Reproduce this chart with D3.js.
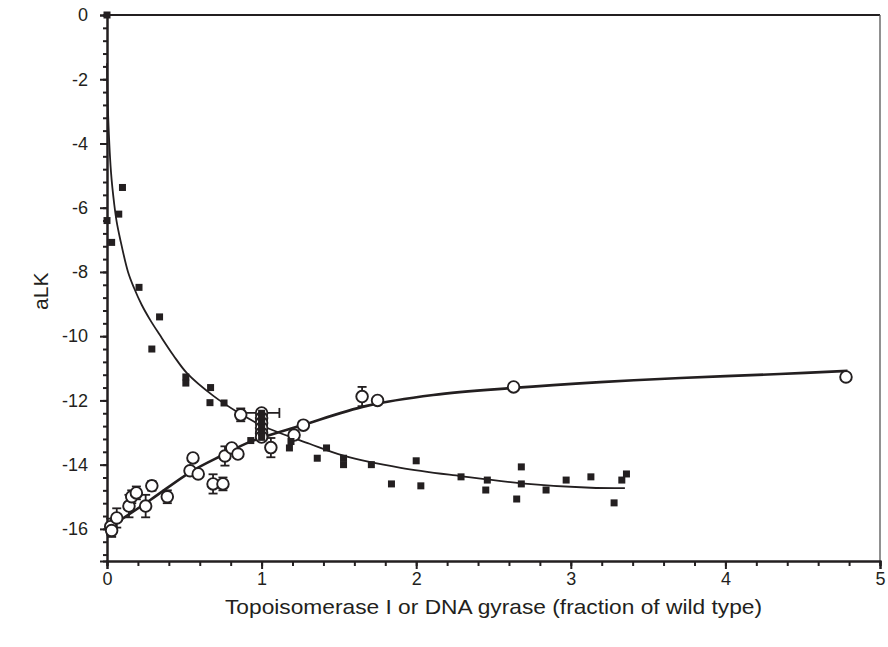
<!DOCTYPE html>
<html><head><meta charset="utf-8">
<script src="https://cdn.jsdelivr.net/npm/d3@7"></script>
<style>body{margin:0;background:#fff}svg{display:block}text{font-family:"Liberation Sans",Arial,sans-serif;fill:#231f20}</style>
</head><body><div id="chart"></div>
<script>
// Gyrase (filled squares)
const squareX = [0,0,0.03,0.076,0.10,0.207,0.34,0.29,0.51,0.51,0.67,0.666,0.757,0.93,1.0,1.0,1.0,1.0,1.0,1.0,1.18,1.19,1.36,1.42,1.53,1.53,1.71,1.84,2.0,2.03,2.29,2.46,2.45,2.68,2.68,2.65,2.84,2.97,3.13,3.28,3.33,3.36];
const squareY = [0,-6.4,-7.08,-6.2,-5.37,-8.48,-9.4,-10.4,-11.27,-11.46,-11.6,-12.07,-12.08,-13.25,-12.4,-12.55,-12.7,-12.85,-13.0,-13.15,-13.48,-13.28,-13.8,-13.48,-13.8,-14.0,-14.0,-14.6,-13.88,-14.66,-14.38,-14.48,-14.79,-14.07,-14.6,-15.07,-14.79,-14.48,-14.38,-15.19,-14.48,-14.29];
// Topoisomerase I (open circles)
const circleX = [0.024,0.03,0.063,0.142,0.16,0.19,0.25,0.29,0.39,0.556,0.537,0.59,0.686,0.75,0.763,0.807,0.847,0.865,1.0,1.0,1.0,1.0,1.0,1.0,1.06,1.21,1.27,1.65,1.75,2.63,4.78];
const circleY = [-15.93,-16.05,-15.66,-15.29,-15.0,-14.88,-15.29,-14.66,-15.0,-13.79,-14.19,-14.29,-14.6,-14.6,-13.73,-13.48,-13.67,-12.45,-12.39,-12.55,-12.7,-12.86,-13.02,-13.14,-13.47,-13.08,-12.77,-11.88,-12.0,-11.58,-11.27];
const circleYErr = [0.25,0.2,0.3,0.35,0.2,0.2,0.35,0.15,0.2,0.1,0.1,0.1,0.3,0.2,0.3,0.1,0.1,0.2,0.1,0.1,0.1,0.1,0.1,0.1,0.3,0.1,0.1,0.3,0.1,0.1,0.1];
const circleXErr = [0,0,0,0,0,0,0,0,0,0,0,0,0,0,0,0,0,0,0.115,0,0,0,0,0,0,0,0,0,0,0,0];
// Fitted curves
const gyraseFitX = [0,0.005,0.026,0.047,0.063,0.084,0.136,0.175,0.225,0.28,0.34,0.43,0.517,0.686,0.84,1.0,1.31,1.53,1.9,2.29,2.68,3.13,3.35];
const gyraseFitY = [-1.5,-2.8,-4.9,-5.9,-6.45,-6.95,-8.0,-8.5,-9.03,-9.5,-9.95,-10.6,-11.15,-11.85,-12.35,-12.78,-13.35,-13.72,-14.1,-14.36,-14.58,-14.72,-14.73];
const topoFitX = [0.02,0.28,0.54,0.75,0.925,1.27,1.68,2.11,2.63,3.19,3.71,4.35,4.79];
const topoFitY = [-15.94,-15.1,-14.23,-13.7,-13.29,-12.76,-12.17,-11.83,-11.61,-11.43,-11.3,-11.18,-11.08];
const xTicks = [0,1,2,3,4,5];
const yTicks = [0,-2,-4,-6,-8,-10,-12,-14,-16];

const W = 888, H = 647;
const m = {l:107, r:8, t:15, b:86};
const svg = d3.select("#chart").append("svg").attr("width",W).attr("height",H);
const x = d3.scaleLinear().domain([0,5]).range([m.l, W-m.r]);
const y = d3.scaleLinear().domain([-17,0]).range([H-m.b, m.t]);
const ink = "#231f20";
const fmt = d => String(d);

// frame
svg.append("line").attr("x1",x(0)).attr("x2",x(5)).attr("y1",y(0)).attr("y2",y(0)).attr("stroke",ink).attr("stroke-width",2);
svg.append("line").attr("x1",x(5)).attr("x2",x(5)).attr("y1",y(0)).attr("y2",y(-17)).attr("stroke","#555").attr("stroke-width",1.3);

// axes
const xMinor = d3.range(0,5.001,0.2);
const gx = svg.append("g").attr("transform",`translate(0,${y(-17)})`);
gx.call(d3.axisBottom(x).tickValues(xMinor).tickSize(5).tickFormat(""));
gx.append("g").call(d3.axisBottom(x).tickValues(xTicks).tickSize(8).tickFormat(fmt));
gx.selectAll("path").attr("stroke",ink).attr("stroke-width",2);
gx.selectAll("line").attr("stroke",ink).attr("stroke-width",2);
gx.selectAll("text").attr("font-size",18).style("fill",ink);

const yMinor = d3.range(0,-17.001,-0.4);
const gy = svg.append("g").attr("transform",`translate(${x(0)},0)`);
gy.call(d3.axisLeft(y).tickValues(yMinor).tickSize(4).tickFormat(""));
gy.append("g").call(d3.axisLeft(y).tickValues(yTicks).tickSize(7).tickFormat(fmt));
gy.selectAll("path").attr("stroke",ink).attr("stroke-width",2);
gy.selectAll("line").attr("stroke",ink).attr("stroke-width",2);
gy.selectAll("text").attr("font-size",18).attr("x",-19).style("fill",ink);

svg.append("text").attr("x",(x(0)+x(5))/2).attr("y",614).attr("text-anchor","middle").attr("font-size",21).attr("textLength",537).attr("lengthAdjust","spacingAndGlyphs").text("Topoisomerase I or DNA gyrase (fraction of wild type)");
svg.append("text").attr("transform",`translate(48,${y(-8.6)}) rotate(-90)`).attr("text-anchor","middle").attr("font-size",21).text("aLK");

// curves
const line = d3.line().x(d=>x(d[0])).y(d=>y(d[1])).curve(d3.curveCatmullRom);
svg.append("path").attr("d",line(gyraseFitX.map((v,i)=>[v,gyraseFitY[i]]))).attr("fill","none").attr("stroke",ink).attr("stroke-width",1.8);
svg.append("path").attr("d",line(topoFitX.map((v,i)=>[v,topoFitY[i]]))).attr("fill","none").attr("stroke",ink).attr("stroke-width",2.6);

// circles with error bars
const cdata = circleX.map((v,i)=>({x:v,y:circleY[i],ye:circleYErr[i],xe:circleXErr[i]}));
const eb = svg.append("g").attr("stroke",ink).attr("stroke-width",1.8);
cdata.forEach(d=>{
  if(d.ye>0){
    eb.append("line").attr("x1",x(d.x)).attr("x2",x(d.x)).attr("y1",y(d.y-d.ye)).attr("y2",y(d.y+d.ye));
    [d.y-d.ye,d.y+d.ye].forEach(v=>eb.append("line").attr("x1",x(d.x)-4.5).attr("x2",x(d.x)+4.5).attr("y1",y(v)).attr("y2",y(v)));
  }
  if(d.xe>0){
    eb.append("line").attr("x1",x(d.x-d.xe)).attr("x2",x(d.x+d.xe)).attr("y1",y(d.y)).attr("y2",y(d.y));
    [d.x-d.xe,d.x+d.xe].forEach(v=>eb.append("line").attr("x1",x(v)).attr("x2",x(v)).attr("y1",y(d.y)-5).attr("y2",y(d.y)+5));
  }
});
svg.append("g").selectAll("circle").data(cdata).join("circle")
  .attr("cx",d=>x(d.x)).attr("cy",d=>y(d.y)).attr("r",5.8).attr("fill","#fff").attr("stroke",ink).attr("stroke-width",1.9);

// squares (drawn on top)
const sq = 7;
svg.append("g").selectAll("rect").data(squareX.map((v,i)=>[v,squareY[i]])).join("rect")
  .attr("x",d=>x(d[0])-sq/2).attr("y",d=>y(d[1])-sq/2).attr("width",sq).attr("height",sq).attr("fill",ink);
</script></body></html>
